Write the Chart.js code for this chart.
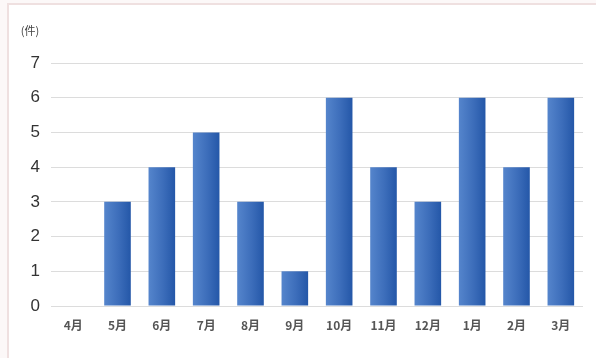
<!DOCTYPE html>
<html><head><meta charset="utf-8">
<script src="https://cdn.jsdelivr.net/npm/chart.js@4/dist/chart.umd.min.js"></script>
<style>
html,body{margin:0;padding:0;}
body{width:596px;height:358px;background:#fcf8f8;position:relative;overflow:hidden;}
#panel{position:absolute;left:7px;top:3px;width:600px;height:370px;background:#fff;border:2px solid #efe0e0;box-sizing:border-box;}
#wrap{position:absolute;left:0;top:0;width:596px;height:358px;}
</style></head><body>
<div id="panel"></div>
<div id="wrap"><canvas id="c" width="596" height="358"></canvas></div>
<script>
const categories = ['4月','5月','6月','7月','8月','9月','10月','11月','12月','1月','2月','3月'];
const counts = [0,3,4,5,3,1,6,4,3,6,4,6];
const yTicks = [0,1,2,3,4,5,6,7];
const unitLabel = '(件)';

const barPct = 0.6;
function barFill(ctx){
  const chart = ctx.chart;
  const xs = chart.scales.x;
  if(!xs || !chart.chartArea || ctx.dataIndex === undefined) return '#3b6cb8';
  const cx = xs.getPixelForValue(ctx.dataIndex);
  const w = xs.width / categories.length * barPct;
  const g = chart.ctx.createLinearGradient(cx - w/2, 0, cx + w/2, 0);
  g.addColorStop(0, '#5585cc');
  g.addColorStop(0.55, '#3c6dba');
  g.addColorStop(1, '#2457a8');
  return g;
}

const unitPlugin = {
  id:'unit',
  afterDraw(chart){
    const c = chart.ctx;
    c.save();
    c.fillStyle = '#444';
    c.font = '11px "Noto Sans CJK JP"';
    c.textAlign = 'center';
    c.textBaseline = 'middle';
    c.fillText(unitLabel, 30, 31);
    c.restore();
  }
};

new Chart(document.getElementById('c'), {
  type:'bar',
  data:{labels:categories, datasets:[{data:counts, backgroundColor:barFill, borderWidth:0, categoryPercentage:1, barPercentage:barPct}]},
  options:{
    responsive:false, animation:false,
    layout:{padding:{left:0,right:13,top:63,bottom:0}},
    plugins:{legend:{display:false}, tooltip:{enabled:false}},
    scales:{
      x:{
        grid:{display:false, drawTicks:false},
        border:{display:false},
        ticks:{color:'#555', font:{family:'"Noto Sans CJK JP"', size:12, weight:'bold'}, padding:12, maxRotation:0},
        afterFit(s){ s.height = 52; }
      },
      y:{
        min:0, max:7,
        afterBuildTicks(s){ s.ticks = yTicks.map(v=>({value:v})); },
        grid:{color:'#dcdcdc', drawTicks:false, lineWidth:1},
        border:{display:false},
        ticks:{color:'#333', font:{family:'"Liberation Sans", Arial', size:17}, padding:11},
        afterFit(s){ s.width = 51; }
      }
    }
  },
  plugins:[unitPlugin]
});
</script>
</body></html>
